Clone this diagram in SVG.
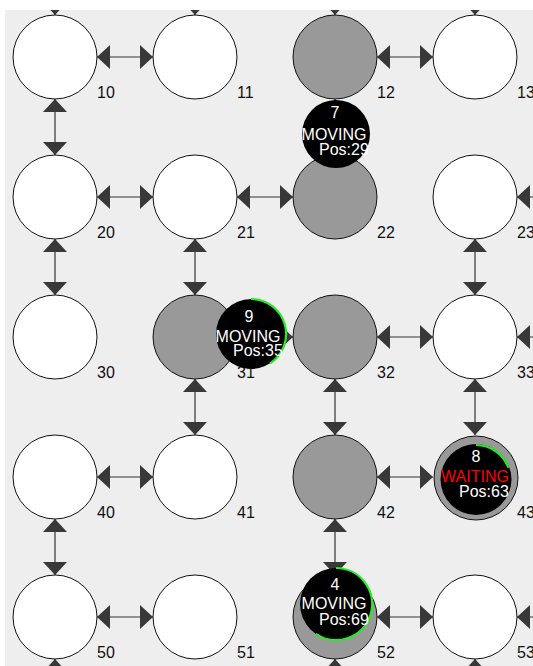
<svg xmlns="http://www.w3.org/2000/svg" width="533" height="666" viewBox="0 0 533 666">
<style>
.bg{fill:#ffffff}
.panel{fill:#eeeeee}
.n{fill:#ffffff;stroke:#111;stroke-width:1}
.occ{fill:#999999;stroke:#111;stroke-width:1}
.lbl{font-family:"Liberation Sans",Arial,sans-serif;font-size:16px;fill:#111}
.c{stroke:#333;stroke-width:1.2;fill:none;marker-end:url(#h)}
.d{marker-start:url(#h)}
.ag{fill:#000}
.at{font-family:"Liberation Sans",Arial,sans-serif;font-size:16px;fill:#ffffff}
.mid{text-anchor:middle}
.red{fill:#ff0000}
.prog{fill:none;stroke:#22ee22;stroke-width:2.2}
</style>
<defs>
<marker id="h" markerUnits="userSpaceOnUse" markerWidth="14" markerHeight="26" viewBox="0 0 14 26" refX="13" refY="12.5" orient="auto-start-reverse">
<path d="M0,0.5 L13,12.5 L0,24.5 z" fill="#383838"/>
</marker>
<clipPath id="pc"><rect x="5" y="10" width="528" height="656"/></clipPath>
</defs>
<rect class="bg" x="0" y="0" width="533" height="666"/>
<rect class="panel" x="5" y="10" width="528" height="656"/>
<g id="connectors" clip-path="url(#pc)">
<line class="c d" x1="97" y1="57" x2="153" y2="57"/>
<line class="c d" x1="377" y1="57" x2="433" y2="57"/>
<line class="c d" x1="97" y1="197" x2="153" y2="197"/>
<line class="c d" x1="237" y1="197" x2="293" y2="197"/>
<line class="c d" x1="237" y1="337" x2="293" y2="337"/>
<line class="c d" x1="377" y1="337" x2="433" y2="337"/>
<line class="c d" x1="97" y1="477" x2="153" y2="477"/>
<line class="c d" x1="377" y1="477" x2="433" y2="477"/>
<line class="c d" x1="97" y1="617" x2="153" y2="617"/>
<line class="c d" x1="377" y1="617" x2="433" y2="617"/>
<line class="c d" x1="55" y1="99" x2="55" y2="155"/>
<line class="c d" x1="55" y1="239" x2="55" y2="295"/>
<line class="c d" x1="55" y1="519" x2="55" y2="575"/>
<line class="c d" x1="195" y1="239" x2="195" y2="295"/>
<line class="c d" x1="195" y1="379" x2="195" y2="435"/>
<line class="c d" x1="335" y1="99" x2="335" y2="155"/>
<line class="c d" x1="335" y1="379" x2="335" y2="435"/>
<line class="c d" x1="335" y1="519" x2="335" y2="575"/>
<line class="c d" x1="475" y1="239" x2="475" y2="295"/>
<line class="c d" x1="475" y1="379" x2="475" y2="435"/>
<line class="c" x1="55" y1="-40" x2="55" y2="15"/>
<line class="c" x1="195" y1="-40" x2="195" y2="15"/>
<line class="c" x1="335" y1="-40" x2="335" y2="15"/>
<line class="c" x1="475" y1="-40" x2="475" y2="15"/>
<line class="c" x1="575" y1="197" x2="517" y2="197"/>
<line class="c" x1="575" y1="337" x2="517" y2="337"/>
<line class="c" x1="575" y1="617" x2="517" y2="617"/>
<line class="c" x1="55" y1="710" x2="55" y2="659"/>
<line class="c" x1="335" y1="710" x2="335" y2="659"/>
<line class="c" x1="475" y1="710" x2="475" y2="659"/>
</g>
<g id="n10"><circle class="n" cx="55" cy="57" r="42"/><text class="lbl" x="97" y="98">10</text></g>
<g id="n11"><circle class="n" cx="195" cy="57" r="42"/><text class="lbl" x="237" y="98">11</text></g>
<g id="n12"><circle class="occ" cx="335" cy="57" r="42"/><text class="lbl" x="377" y="98">12</text></g>
<g id="n13"><circle class="n" cx="475" cy="57" r="42"/><text class="lbl" x="517" y="98">13</text></g>
<g id="n20"><circle class="n" cx="55" cy="197" r="42"/><text class="lbl" x="97" y="238">20</text></g>
<g id="n21"><circle class="n" cx="195" cy="197" r="42"/><text class="lbl" x="237" y="238">21</text></g>
<g id="n22"><circle class="occ" cx="335" cy="197" r="42"/><text class="lbl" x="377" y="238">22</text></g>
<g id="n23"><circle class="n" cx="475" cy="197" r="42"/><text class="lbl" x="517" y="238">23</text></g>
<g id="n30"><circle class="n" cx="55" cy="337" r="42"/><text class="lbl" x="97" y="378">30</text></g>
<g id="n31"><circle class="occ" cx="195" cy="337" r="42"/><text class="lbl" x="237" y="378">31</text></g>
<g id="n32"><circle class="occ" cx="335" cy="337" r="42"/><text class="lbl" x="377" y="378">32</text></g>
<g id="n33"><circle class="n" cx="475" cy="337" r="42"/><text class="lbl" x="517" y="378">33</text></g>
<g id="n40"><circle class="n" cx="55" cy="477" r="42"/><text class="lbl" x="97" y="518">40</text></g>
<g id="n41"><circle class="n" cx="195" cy="477" r="42"/><text class="lbl" x="237" y="518">41</text></g>
<g id="n42"><circle class="occ" cx="335" cy="477" r="42"/><text class="lbl" x="377" y="518">42</text></g>
<g id="n43"><circle class="occ" cx="476" cy="478" r="42"/><text class="lbl" x="517" y="518">43</text></g>
<g id="n50"><circle class="n" cx="55" cy="617" r="42"/><text class="lbl" x="97" y="658">50</text></g>
<g id="n51"><circle class="n" cx="195" cy="617" r="42"/><text class="lbl" x="237" y="658">51</text></g>
<g id="n52"><circle class="occ" cx="335" cy="617" r="42"/><text class="lbl" x="377" y="658">52</text></g>
<g id="n53"><circle class="n" cx="475" cy="617" r="42"/><text class="lbl" x="517" y="658">53</text></g>
<g id="agent7">
<circle class="ag" cx="336" cy="134" r="34"/>
<text class="at mid" x="335" y="118">7</text>
<text class="at mid" x="334" y="140">MOVING</text>
<text class="at" x="319" y="155">Pos:29</text>
</g>
<g id="agent9">
<circle class="ag" cx="251" cy="334" r="35"/>
<path class="prog" d="M251 299 A35 35 0 0 1 270.1 363.4"/>
<text class="at mid" x="249" y="322">9</text>
<text class="at mid" x="248" y="342">MOVING</text>
<text class="at" x="233" y="356">Pos:35</text>
</g>
<g id="agent8">
<circle class="ag" cx="476" cy="479.5" r="35.5"/>
<path class="prog" d="M476 445 A34.5 34.5 0 0 1 508.4 467.7"/>
<text class="at mid" x="476" y="462">8</text>
<text class="at mid red" x="475" y="482">WAITING</text>
<text class="at" x="459" y="497">Pos:63</text>
</g>
<g id="agent4">
<circle class="ag" cx="336" cy="604" r="36"/>
<path class="prog" d="M336 568 A36 36 0 1 1 315.9 633.8"/>
<text class="at mid" x="335" y="590">4</text>
<text class="at mid" x="334" y="609">MOVING</text>
<text class="at" x="319" y="625">Pos:69</text>
</g>
</svg>
